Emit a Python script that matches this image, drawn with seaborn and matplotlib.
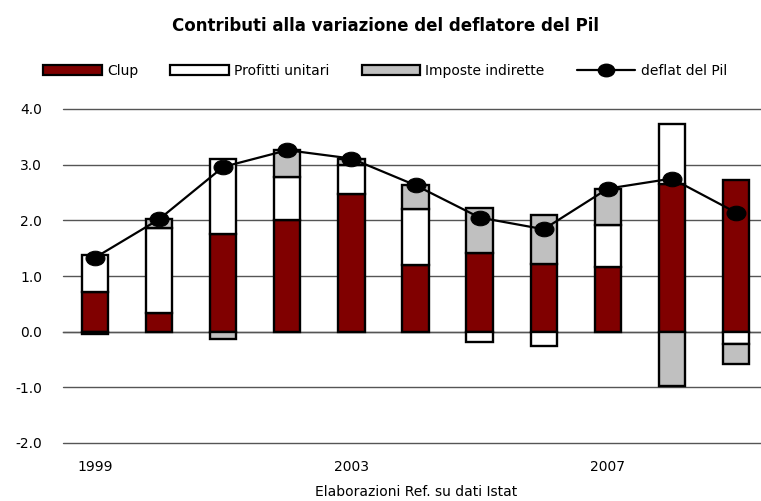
import numpy as np
import pandas as pd
import matplotlib
matplotlib.use('Agg')
import matplotlib.pyplot as plt
import seaborn as sns
from matplotlib.patches import Patch
from matplotlib.lines import Line2D
from matplotlib.markers import MarkerStyle
from matplotlib.transforms import Affine2D

# dati (contributi in punti percentuali)
anni = ['1999', '2000', '2001', '2002', '2003', '2004', '2005', '2006', '2007', '2008', '2009']
clup = [0.71, 0.33, 1.75, 2.01, 2.47, 1.20, 1.42, 1.22, 1.17, 2.65, 2.73]
profitti = [0.67, 1.53, 1.35, 0.77, 0.52, 1.00, -0.18, -0.26, 0.75, 1.08, -0.23]
imposte = [-0.05, 0.16, -0.14, 0.48, 0.12, 0.43, 0.81, 0.88, 0.65, -0.98, -0.35]
deflat = [1.33, 2.02, 2.96, 3.26, 3.11, 2.63, 2.05, 1.84, 2.57, 2.75, 2.14]

nomi = ['Clup', 'Profitti unitari', 'Imposte indirette', 'deflat del Pil']
colori = ['#800000', 'white', '#c0c0c0']

sns.set_style('white')
plt.rcParams['font.family'] = ['DejaVu Sans']
plt.rcParams['axes.unicode_minus'] = False
plt.rcParams['text.color'] = 'black'
plt.rcParams['xtick.color'] = 'black'
plt.rcParams['ytick.color'] = 'black'

fig = plt.figure(figsize=(7.61, 5.01), dpi=100)
ax = fig.add_axes([63/761, 1-443/501, 1-63/761, (443-109)/501])

x = np.arange(len(anni))
pos = np.zeros(len(anni))
neg = np.zeros(len(anni))
for nome, valori, col in zip(nomi[:3], [clup, profitti, imposte], colori):
    v = np.array(valori)
    base = np.where(v >= 0, pos, neg)
    ax.bar(x, v, bottom=base, width=0.41, color=col, edgecolor='black',
           linewidth=1.7, zorder=3)
    pos += np.clip(v, 0, None)
    neg += np.clip(v, None, 0)

pallino = MarkerStyle('o', transform=Affine2D().scale(1.3, 1.0))
df = pd.DataFrame({'x': x, 'deflat': deflat})
sns.lineplot(data=df, x='x', y='deflat', ax=ax, color='black', lw=1.6,
             marker=pallino, markersize=10.5, markeredgecolor='black', zorder=4)

ax.set_ylim(-2, 4)
ax.set_xlim(-0.5, 10.39)
ax.set_yticks(np.arange(-2, 4.1, 1))
ax.set_yticklabels(['%.1f' % t for t in np.arange(-2, 4.1, 1)], fontsize=10)
ax.yaxis.grid(True, color='#555555', lw=1)
for g in ax.yaxis.get_gridlines():
    g.set_clip_on(False)
ax.set_axisbelow(True)
ax.tick_params(axis='y', length=0, pad=15)
for s in ['left', 'right', 'top']:
    ax.spines[s].set_visible(False)
ax.spines['bottom'].set_position(('data', 0))
ax.spines['bottom'].set_color('#555555')
ax.spines['bottom'].set_linewidth(1)
ax.set_xticks([-0.5, 3.5, 7.5])
ax.tick_params(axis='x', length=4, width=1, color='#555555', labelbottom=False)
ax.set_xlabel('')
ax.set_ylabel('')

sec = ax.secondary_xaxis('bottom')
sec.set_xticks(x[::4], anni[::4], fontsize=10)
sec.tick_params(length=0, pad=12)
sec.spines['bottom'].set_visible(False)

fig.text(385/761, 1-26/501, 'Contributi alla variazione del deflatore del Pil',
         ha='center', va='center', fontsize=12, fontweight='bold')
fig.text(416/761, 1-492/501, 'Elaborazioni Ref. su dati Istat',
         ha='center', va='center', fontsize=10)

handles = [Patch(facecolor=c, edgecolor='black', lw=1.6) for c in colori]
handles.append(Line2D([], [], color='black', lw=1.6, marker=pallino, markersize=9))
fig.legend(handles, nomi, loc='center', bbox_to_anchor=(385/761, 1-71/501),
           ncol=4, frameon=False, fontsize=10, handlelength=4.2,
           handleheight=0.7, handletextpad=0.4, columnspacing=2.3)

fig.savefig('out.png', dpi=100)
